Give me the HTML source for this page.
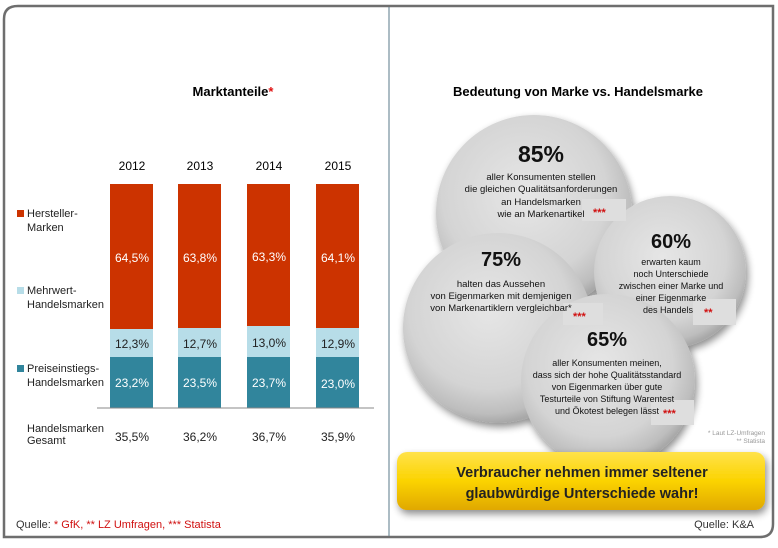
<!DOCTYPE html>
<html><head><meta charset="utf-8"><style>
body{margin:0;background:#fff;}
svg text{font-family:"Liberation Sans",sans-serif;}
</style></head><body>
<svg width="778" height="543" viewBox="0 0 778 543" xmlns="http://www.w3.org/2000/svg">
<defs>
<radialGradient id="cg" cx="0.45" cy="0.4" r="0.6">
<stop offset="0" stop-color="#e6e6e6"/><stop offset="0.7" stop-color="#d4d4d4"/><stop offset="0.92" stop-color="#bdbdbd"/><stop offset="1" stop-color="#a8a8a8"/>
</radialGradient>
<filter id="sh" x="-20%" y="-20%" width="140%" height="140%"><feGaussianBlur in="SourceAlpha" stdDeviation="4"/><feOffset dx="2" dy="4"/><feComponentTransfer><feFuncA type="linear" slope="0.45"/></feComponentTransfer><feMerge><feMergeNode/><feMergeNode in="SourceGraphic"/></feMerge></filter>
<linearGradient id="yg" x1="0" y1="0" x2="0" y2="1"><stop offset="0" stop-color="#ffe24a"/><stop offset="0.5" stop-color="#fbd300"/><stop offset="1" stop-color="#e0a800"/></linearGradient>
</defs>
<path d="M18 6 H773 V524 Q773 537 760 537 H4 V19 Q4 6 18 6 Z" fill="#fff" stroke="#6e6e6e" stroke-width="2.5"/>
<line x1="389" y1="7" x2="389" y2="536" stroke="#5a7a8a" stroke-width="1"/>
<text x="233" y="96" font-size="13" font-weight="bold" text-anchor="middle">Marktanteile<tspan fill="#e01010">*</tspan></text>
<g font-size="12" text-anchor="middle">
<text x="132" y="170">2012</text><text x="200" y="170">2013</text><text x="269" y="170">2014</text><text x="338" y="170">2015</text>
</g>
<g>
<rect x="110" y="184" width="43" height="145" fill="#cc3300"/><rect x="110" y="329" width="43" height="28" fill="#b7dde8"/><rect x="110" y="357" width="43" height="51" fill="#31859c"/>
<rect x="178" y="184" width="43" height="144" fill="#cc3300"/><rect x="178" y="328" width="43" height="29" fill="#b7dde8"/><rect x="178" y="357" width="43" height="51" fill="#31859c"/>
<rect x="247" y="184" width="43" height="142" fill="#cc3300"/><rect x="247" y="326" width="43" height="31" fill="#b7dde8"/><rect x="247" y="357" width="43" height="51" fill="#31859c"/>
<rect x="316" y="184" width="43" height="144" fill="#cc3300"/><rect x="316" y="328" width="43" height="29" fill="#b7dde8"/><rect x="316" y="357" width="43" height="51" fill="#31859c"/>
</g>
<line x1="97" y1="408" x2="374" y2="408" stroke="#888" stroke-width="1"/>
<g font-size="12" text-anchor="middle" fill="#fff">
<text x="132" y="262">64,5%</text><text x="200" y="262">63,8%</text><text x="269" y="261">63,3%</text><text x="338" y="262">64,1%</text>
<text x="132" y="387">23,2%</text><text x="200" y="387">23,5%</text><text x="269" y="387">23,7%</text><text x="338" y="388">23,0%</text>
</g>
<g font-size="12" text-anchor="middle" fill="#222">
<text x="132" y="348">12,3%</text><text x="200" y="348">12,7%</text><text x="269" y="347">13,0%</text><text x="338" y="348">12,9%</text>
<text x="132" y="441">35,5%</text><text x="200" y="441">36,2%</text><text x="269" y="441">36,7%</text><text x="338" y="441">35,9%</text>
</g>
<g font-size="11" fill="#222">
<rect x="17" y="210" width="7" height="7" fill="#cc3300"/><text x="27" y="217">Hersteller-</text><text x="27" y="231">Marken</text>
<rect x="17" y="287" width="7" height="7" fill="#b7dde8"/><text x="27" y="294">Mehrwert-</text><text x="27" y="308">Handelsmarken</text>
<rect x="17" y="365" width="7" height="7" fill="#31859c"/><text x="27" y="372">Preiseinstiegs-</text><text x="27" y="386">Handelsmarken</text>
<text x="27" y="432">Handelsmarken</text><text x="27" y="444">Gesamt</text>
</g>
<text x="16" y="528" font-size="11" fill="#333">Quelle: <tspan fill="#d01010">* GfK, ** LZ Umfragen, *** Statista</tspan></text>
<text x="578" y="96" font-size="13" font-weight="bold" text-anchor="middle">Bedeutung von Marke vs. Handelsmarke</text>
<g filter="url(#sh)">
<circle cx="534" cy="213" r="98" fill="url(#cg)"/>
<circle cx="498" cy="328" r="95" fill="url(#cg)"/>
<circle cx="670" cy="272" r="76" fill="url(#cg)"/>
<circle cx="608" cy="381" r="87" fill="url(#cg)"/>
</g>
<g fill="#dedede"><rect x="582" y="199" width="44" height="22"/><rect x="563" y="303" width="40" height="22"/><rect x="693" y="299" width="43" height="26"/><rect x="651" y="400" width="43" height="25"/></g>
<g text-anchor="middle" fill="#111">
<text x="541" y="162" font-size="23" font-weight="bold">85%</text>
<g font-size="9.5"><text x="541" y="180">aller Konsumenten stellen</text><text x="541" y="192">die gleichen Qualitätsanforderungen</text><text x="541" y="205">an Handelsmarken</text><text x="541" y="217">wie an Markenartikel</text></g>
<text x="501" y="266" font-size="20" font-weight="bold">75%</text>
<g font-size="9.5"><text x="501" y="287">halten das Aussehen</text><text x="501" y="299">von Eigenmarken mit demjenigen</text><text x="501" y="311">von Markenartiklern vergleichbar*</text></g>
<text x="671" y="248" font-size="20" font-weight="bold">60%</text>
<g font-size="9"><text x="671" y="265">erwarten kaum</text><text x="671" y="277">noch Unterschiede</text><text x="671" y="289">zwischen einer Marke und</text><text x="671" y="301">einer Eigenmarke</text><text x="668" y="313">des Handels</text></g>
<text x="607" y="346" font-size="20" font-weight="bold">65%</text>
<g font-size="9"><text x="607" y="366">aller Konsumenten meinen,</text><text x="607" y="378">dass sich der hohe Qualitätsstandard</text><text x="607" y="390">von Eigenmarken über gute</text><text x="607" y="402">Testurteile von Stiftung Warentest</text><text x="607" y="414">und Ökotest belegen lässt</text></g>
</g>
<g fill="#d01010" font-size="11" font-weight="bold"><text x="593" y="216">***</text><text x="573" y="320">***</text><text x="704" y="316">**</text><text x="663" y="417">***</text></g>
<g fill="#999" font-size="6.5" text-anchor="end"><text x="765" y="435">* Laut LZ-Umfragen</text><text x="765" y="443">** Statista</text></g>
<rect x="397" y="452" width="368" height="58" rx="10" fill="url(#yg)" filter="url(#sh)"/>
<g font-size="14.5" font-weight="bold" text-anchor="middle" fill="#222"><text x="582" y="477">Verbraucher nehmen immer seltener</text><text x="582" y="498">glaubwürdige Unterschiede wahr!</text></g>
<text x="754" y="528" font-size="11" fill="#333" text-anchor="end">Quelle: K&amp;A</text>
</svg>
</body></html>
